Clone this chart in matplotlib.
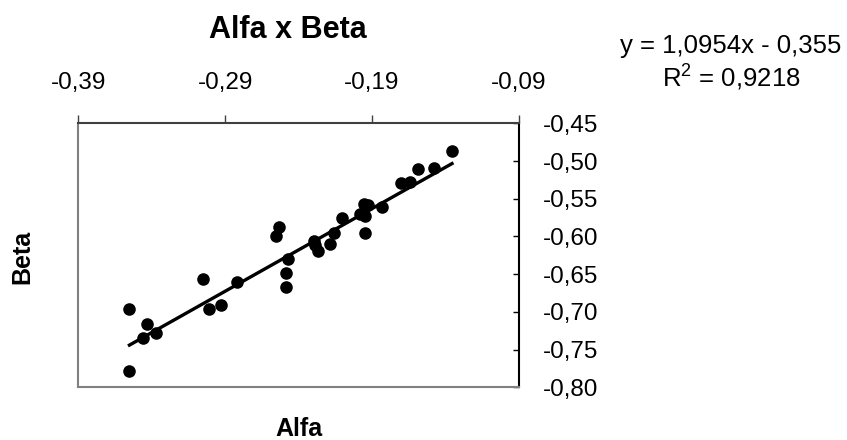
import numpy as np
import matplotlib
matplotlib.use("Agg")
import matplotlib.pyplot as plt
from matplotlib.ticker import FuncFormatter

plt.rcParams['font.family'] = ['Liberation Sans', 'DejaVu Sans']
plt.rcParams['mathtext.fontset'] = 'custom'
plt.rcParams['mathtext.rm'] = 'Liberation Sans'

# Alfa / Beta pairs
alfa = [-0.3552, -0.3552, -0.3457, -0.3430, -0.3370, -0.3048, -0.3007,
        -0.2925, -0.2816, -0.2557, -0.2530, -0.2475, -0.2486, -0.2486,
        -0.2298, -0.2286, -0.2270, -0.2189, -0.2161, -0.2105, -0.1984,
        -0.1955, -0.1925, -0.1945, -0.1945, -0.1832, -0.1700, -0.1643,
        -0.1589, -0.1480, -0.1355]
beta = [-0.6957, -0.7779, -0.7350, -0.7165, -0.7275, -0.6559, -0.6957,
        -0.6904, -0.6608, -0.5998, -0.5870, -0.6294, -0.6480, -0.6665,
        -0.6056, -0.6120, -0.6188, -0.6104, -0.5950, -0.5759, -0.5702,
        -0.5574, -0.5585, -0.5729, -0.5950, -0.5605, -0.5287, -0.5278,
        -0.5105, -0.5097, -0.4867]

slope = 1.0954
intercept = -0.355
r2 = 0.9218

xticks = [-0.39, -0.29, -0.19, -0.09]
yticks = [-0.80, -0.75, -0.70, -0.65, -0.60, -0.55, -0.50, -0.45]

def comma(v, pos=None):
    return f"{v:.2f}".replace('.', ',')

fig = plt.figure(figsize=(8.47, 4.40), dpi=100)
ax = fig.add_axes([0.0925, 0.1198, 0.52, 0.60])

ax.scatter(alfa, beta, s=82, color='black', zorder=3, linewidths=0)

# linear trend line
xs = np.array([min(alfa), max(alfa)])
ax.plot(xs, slope * xs + intercept, color='black', lw=2.4, zorder=2)

ax.set_xlim(-0.39, -0.09)
ax.set_ylim(-0.80, -0.45)
ax.set_xticks(xticks)
ax.set_yticks(yticks)
ax.xaxis.set_major_formatter(FuncFormatter(comma))
ax.yaxis.set_major_formatter(FuncFormatter(comma))

ax.xaxis.tick_top()
ax.yaxis.tick_right()
ax.tick_params(axis='x', direction='out', length=6, width=1, pad=15,
               labelsize=17.5, color='#404040')
ax.tick_params(axis='y', direction='in', length=4, width=1, pad=17,
               labelsize=17.5, color='black')

for side in ('left', 'bottom'):
    ax.spines[side].set_color('#808080')
    ax.spines[side].set_linewidth(1.5)
ax.spines['top'].set_color('#404040')
ax.spines['top'].set_linewidth(1.5)
ax.spines['right'].set_color('black')
ax.spines['right'].set_linewidth(1.5)

fig.text(287.5 / 847, 1 - 30 / 440, "Alfa x Beta", ha='center', va='center',
         fontsize=22, fontweight='bold')
fig.text(299 / 847, 1 - 429 / 440, "Alfa", ha='center', va='center',
         fontsize=18, fontweight='bold')
fig.text(22.5 / 847, 1 - 257 / 440, "Beta", ha='center', va='center',
         fontsize=18, fontweight='bold', rotation=90)

eq = f"y = {slope:.4f}x - {abs(intercept):.3f}".replace('.', ',')
fig.text(731 / 847, 1 - 46 / 440, eq, ha='center', va='center', fontsize=18.5)
fig.text(731 / 847, 1 - 77 / 440,
         r"R$^{\mathrm{2}}$ = " + f"{r2:.4f}".replace('.', ','),
         ha='center', va='center', fontsize=18.5)

fig.savefig("out.png", dpi=100)
